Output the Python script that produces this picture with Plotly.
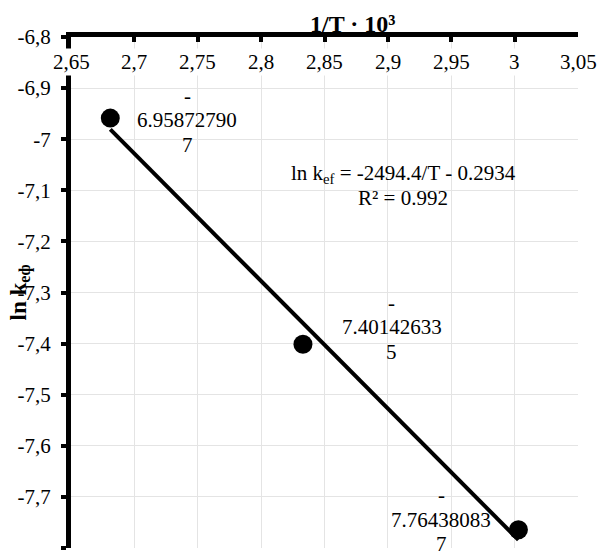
import plotly.graph_objects as go

# Arrhenius data: 1000/T and ln k_ef
inv_T = [2.681, 2.833, 3.003]
ln_k = [-6.958727907, -7.401426335, -7.764380837]

# linear fit ln k = slope * (1000/T) + intercept
slope = -2.4944
intercept = -0.2934
r_squared = 0.992

x_ticks = [2.65, 2.70, 2.75, 2.80, 2.85, 2.90, 2.95, 3.00, 3.05]
y_ticks = [-6.8, -6.9, -7.0, -7.1, -7.2, -7.3, -7.4, -7.5, -7.6, -7.7, -7.8]

# pixel offsets of the value labels relative to their points
label_shift = [(77, -2), (89, 17), (-77, 10)]

FONT = "Liberation Serif"
FS = 21
LINE = 24.5


def comma(v):
    s = f"{v:.2f}".rstrip("0").rstrip(".")
    return s.replace(".", ",")


fig = go.Figure()

x_fit = [min(inv_T), max(inv_T)]
y_fit = [slope * x + intercept for x in x_fit]
fig.add_trace(go.Scatter(x=x_fit, y=y_fit, mode="lines",
                         line=dict(color="black", width=4),
                         hoverinfo="skip", showlegend=False))
fig.add_trace(go.Scatter(x=inv_T, y=ln_k, mode="markers",
                         marker=dict(color="black", size=19),
                         showlegend=False))

annotations = []

# x tick labels sit just below the top axis line, on a white ground
for t in x_ticks:
    annotations.append(dict(x=t, y=1, xref="x", yref="paper", yshift=-25,
                            text=comma(t), showarrow=False,
                            xanchor="center", yanchor="middle",
                            bgcolor="white",
                            font=dict(family=FONT, size=FS, color="black")))

# value labels, wrapped over three lines
for x, y, (dx, dy) in zip(inv_T, ln_k, label_shift):
    s = f"{y:.9f}"
    parts = [s[0], s[1:11], s[11:]]
    for i, p in enumerate(parts):
        annotations.append(dict(x=x, y=y, xref="x", yref="y",
                                xshift=dx, yshift=dy + (1 - i) * LINE,
                                text=p, showarrow=False,
                                xanchor="center", yanchor="middle",
                                font=dict(family=FONT, size=FS, color="black")))

# trendline equation
eq_lines = [f"ln k<sub>ef</sub> = {slope * 1000:.1f}/T - {abs(intercept):.4f}",
            f"R² = {r_squared}"]
for i, t in enumerate(eq_lines):
    annotations.append(dict(x=0.6558, y=0.7319, xref="paper", yref="paper",
                            yshift=-i * LINE, text=t, showarrow=False,
                            xanchor="center", yanchor="middle",
                            font=dict(family=FONT, size=FS, color="black")))

# axis titles
annotations.append(dict(x=0.555, y=1, xref="paper", yref="paper", yshift=13,
                        text="<b>1/T · 10³</b>", showarrow=False,
                        xanchor="center", yanchor="middle",
                        font=dict(family=FONT, size=24, color="black")))
annotations.append(dict(x=0, y=0.5, xref="paper", yref="paper", xshift=-51,
                        text="<b>ln k<sub>eф</sub></b>", showarrow=False,
                        textangle=-90, xanchor="center", yanchor="middle",
                        font=dict(family=FONT, size=23, color="black")))

fig.update_layout(
    width=598, height=557,
    margin=dict(l=71, r=20, t=37, b=9),
    paper_bgcolor="white", plot_bgcolor="white",
    font=dict(family=FONT, size=FS, color="black"),
    annotations=annotations,
    xaxis=dict(range=[2.65, 3.05], side="top", tickvals=x_ticks,
               showticklabels=False, ticks="inside", ticklen=5,
               tickwidth=4, tickcolor="black",
               showline=True, linecolor="black", linewidth=5,
               showgrid=True, gridcolor="#e4e4e4", gridwidth=1.3,
               zeroline=False),
    yaxis=dict(range=[-7.8, -6.8], tickvals=y_ticks,
               ticktext=[comma(v) for v in y_ticks],
               ticks="outside", ticklen=5, tickwidth=4, tickcolor="black",
               ticklabelstandoff=6,
               tickfont=dict(family=FONT, size=FS, color="black"),
               showline=True, linecolor="black", linewidth=5,
               showgrid=True, gridcolor="#e4e4e4", gridwidth=1.3,
               zeroline=False),
)

fig.write_html("out.html")
